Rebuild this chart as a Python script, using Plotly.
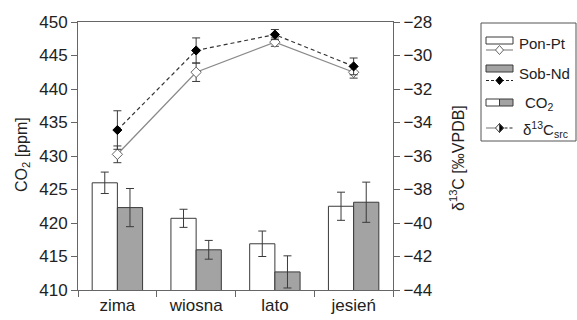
import plotly.graph_objects as go

# ---------------- data ----------------
seasons = ["zima", "wiosna", "lato", "jesień"]
co2_ponpt = [426.0, 420.7, 416.9, 422.5]
co2_ponpt_err = [1.6, 1.35, 1.9, 2.1]
co2_sobnd = [422.3, 416.0, 412.7, 423.1]
co2_sobnd_err = [2.85, 1.4, 2.4, 3.0]
d13c_ponpt = [-35.9, -31.0, -29.2, -31.0]
d13c_ponpt_err = [0.5, 0.55, 0.25, 0.35]
d13c_sobnd = [-34.45, -29.7, -28.75, -30.65]
d13c_sobnd_err = [1.15, 0.75, 0.3, 0.5]

W, H = 577, 320
FONT = "Liberation Sans, Arial, sans-serif"
GRAY_FILL = "#a3a3a3"
EDGE = "#3a3a3a"
AXC = "#666666"
TXT = "#222222"


def X(p):
    return p / W


def Y(p):
    return 1 - p / H


fig = go.Figure()

fig.add_trace(go.Bar(
    x=seasons, y=co2_ponpt, name="Pon-Pt",
    marker=dict(color="white", line=dict(color=EDGE, width=1)),
    error_y=dict(type="data", array=co2_ponpt_err, color=EDGE, thickness=1, width=4),
    showlegend=False))
fig.add_trace(go.Bar(
    x=seasons, y=co2_sobnd, name="Sob-Nd",
    marker=dict(color=GRAY_FILL, line=dict(color=EDGE, width=1)),
    error_y=dict(type="data", array=co2_sobnd_err, color=EDGE, thickness=1, width=4),
    showlegend=False))

fig.add_trace(go.Scatter(
    x=seasons, y=d13c_ponpt, yaxis="y2", mode="lines+markers",
    line=dict(color="#8a8a8a", width=1.3),
    marker=dict(symbol="diamond", size=8, color="white", line=dict(color="#666666", width=1)),
    error_y=dict(type="data", array=d13c_ponpt_err, color=EDGE, thickness=1, width=4),
    showlegend=False))
fig.add_trace(go.Scatter(
    x=seasons, y=d13c_sobnd, yaxis="y2", mode="lines+markers",
    line=dict(color="#333333", width=1.2, dash="4px,3px"),
    marker=dict(symbol="diamond", size=7, color="black", line=dict(color="black", width=1)),
    error_y=dict(type="data", array=d13c_sobnd_err, color=EDGE, thickness=1, width=4),
    showlegend=False))

# ---------------- legend (drawn manually) ----------------
shapes = []
annotations = []

# legend frame
shapes.append(dict(type="rect", xref="paper", yref="paper",
                   x0=X(481), x1=X(576), y0=Y(141), y1=Y(23),
                   line=dict(color="#555555", width=1), fillcolor="white", layer="above"))


def rect(x0, x1, y0, y1, fill):
    shapes.append(dict(type="rect", xref="paper", yref="paper",
                       x0=X(x0), x1=X(x1), y0=Y(y1), y1=Y(y0),
                       line=dict(color=EDGE, width=1), fillcolor=fill, layer="above"))


def hline(x0, x1, y, color, dash="solid"):
    shapes.append(dict(type="line", xref="paper", yref="paper",
                       x0=X(x0), x1=X(x1), y0=Y(y), y1=Y(y),
                       line=dict(color=color, width=1.2, dash=dash), layer="above"))


def diamond(cx, cy, rx, ry, fill, edge, half=False):
    if half:
        p = f"M {X(cx)},{Y(cy-ry)} L {X(cx+rx)},{Y(cy)} L {X(cx)},{Y(cy+ry)} Z"
    else:
        p = (f"M {X(cx-rx)},{Y(cy)} L {X(cx)},{Y(cy-ry)} L {X(cx+rx)},{Y(cy)} "
             f"L {X(cx)},{Y(cy+ry)} Z")
    shapes.append(dict(type="path", xref="paper", yref="paper", path=p,
                       fillcolor=fill, line=dict(color=edge, width=1), layer="above"))


def label(x, y, text, size=15):
    annotations.append(dict(xref="paper", yref="paper", x=X(x), y=Y(y), text=text,
                            showarrow=False, xanchor="left", yanchor="middle",
                            font=dict(family=FONT, size=size, color=TXT)))


lx0, lx1, lcx = 486, 513, 499.5
# Pon-Pt
rect(lx0, lx1, 37, 44, "white")
hline(lx0, lx1, 50, "#8a8a8a")
diamond(lcx, 50, 4, 4.5, "white", "#666666")
label(517, 43, "Pon-Pt")
# Sob-Nd
rect(lx0, lx1, 65, 72, GRAY_FILL)
hline(lx0, lx1, 80.5, "#222222", "3px,2px")
diamond(lcx, 80.5, 3.5, 4, "black", "black")
label(517, 73, "Sob-Nd")
# CO2
rect(lx0, lcx, 99, 106, "white")
rect(lcx, lx1, 99, 106, GRAY_FILL)
label(523, 104, "CO<sub>2</sub>")
# d13C src
hline(lx0, lcx, 128, "#8a8a8a")
hline(lcx, lx1, 128, "#222222", "3px,2px")
diamond(lcx, 128, 4, 4.5, "white", "#444444")
diamond(lcx, 128, 4, 4.5, "black", "#444444", half=True)
label(521, 129, "δ<sup>13</sup>C<sub>src</sub>")

# axis titles
annotations.append(dict(xref="paper", yref="paper", x=X(22), y=Y(155),
                        text="CO<sub>2</sub> [ppm]", textangle=-90, showarrow=False,
                        xanchor="center", yanchor="middle",
                        font=dict(family=FONT, size=16, color=TXT)))
annotations.append(dict(xref="paper", yref="paper", x=X(457), y=Y(158),
                        text="δ<sup>13</sup>C [‰VPDB]", textangle=-90, showarrow=False,
                        xanchor="center", yanchor="middle",
                        font=dict(family=FONT, size=16, color=TXT)))

xd = [X(78), X(393)]
yd = [Y(290), Y(22)]

fig.update_layout(
    width=W, height=H,
    margin=dict(l=0, r=0, t=0, b=0),
    paper_bgcolor="white", plot_bgcolor="white",
    barmode="group", bargap=0.36, bargroupgap=0,
    font=dict(family=FONT, size=16, color=TXT),
    xaxis=dict(domain=xd, showline=True, linecolor=AXC, linewidth=1, mirror=True,
               ticks="outside", tickson="boundaries", ticklen=6, tickcolor=AXC,
               showgrid=False, zeroline=False, automargin=False,
               tickfont=dict(family=FONT, size=17, color=TXT)),
    yaxis=dict(domain=yd, range=[410, 450], dtick=5, showline=True, linecolor=AXC,
               linewidth=1, ticks="outside", ticklen=6, tickcolor=AXC,
               showgrid=False, zeroline=False, automargin=False,
               tickfont=dict(family=FONT, size=17, color=TXT)),
    yaxis2=dict(overlaying="y", side="right", anchor="x", range=[-44, -28], dtick=2,
                showline=True, linecolor=AXC, linewidth=1, ticks="outside", ticklen=6,
                tickcolor=AXC, showgrid=False, zeroline=False, automargin=False,
                tickfont=dict(family=FONT, size=17, color=TXT)),
    shapes=shapes,
    annotations=annotations,
    showlegend=False,
)

fig.write_html("out.html")
